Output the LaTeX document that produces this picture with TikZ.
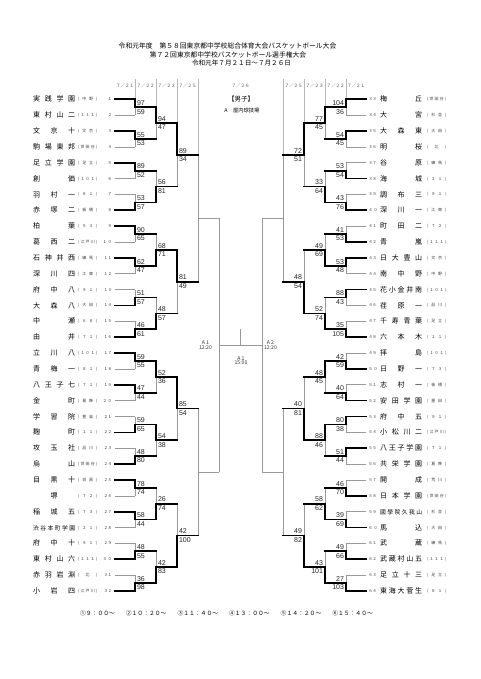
\documentclass[tikz,border=0pt]{standalone}
\usepackage{fontspec}
\setmainfont{Noto Sans CJK JP}
\newfontfamily\scorefont{Liberation Sans}
\pgfdeclarelayer{bg}
\pgfsetlayers{bg,main}
% spread the characters of a string with a separator
\def\sepchars#1#2{\def\sepX{#1}\expandafter\sepA#2\relax}
\def\sepA#1#2{#1\ifx\relax#2\else\sepX\expandafter\sepA\expandafter#2\fi}
\newcommand\namebox[2]{\hbox to #1{\hskip0pt plus1fil\sepchars{\hfill}{#2}\hskip0pt plus1fil}}
\newcommand\regbox[1]{\hbox to 19pt{(\hfil\sepchars{\hfil}{#1}\hfil)}}
\newcommand\fwd[1]{\ifcase#1 ０\or １\or ２\or ３\or ４\or ５\or ６\or ７\or ８\or ９\fi}
\newcommand\fwnum[1]{\ifnum#1<10 \fwd{#1}\else\fwd{\numexpr(#1-5)/10\relax}\fwd{\numexpr#1-10*((#1-5)/10)\relax}\fi}
\def\yz{99.3}
\def\dy{15.86}
\newcommand\seg[3]{\ifnum#1=#2\relax\draw[win] #3;\else\begin{pgfonlayer}{bg}\draw[lose] #3;\end{pgfonlayer}\fi}
% one round of one side: #1 sign (1 left, -1 right), #2 round, #3 x of vertical (left side), #4 list w/s1/s2, #5 letter
\newcommand\rnd[5]{%
  \pgfmathsetmacro\NN{2^#2}%
  \pgfmathsetmacro\xv{240.5+#1*(#3-240.5)}%
  \pgfmathsetmacro\xo{240.5+#1*(#3+21-240.5)}%
  \pgfmathsetmacro\xi{240.5+#1*(#3-20-240.5)}%
  \foreach \w/\sa/\sb [count=\k] in {#4} {
    \pgfmathsetmacro\ya{\yz+((\k-1)*\NN+(1+\NN/2)/2-1)*\dy}
    \pgfmathsetmacro\yb{\ya+\NN/2*\dy}
    \pgfmathsetmacro\ym{(\ya+\yb)/2}
    \pgfmathtruncatemacro\wo{\w>0 ? 1 : 0}
    \ifnum#2=1\relax
      \seg{\w}{1}{(\xi,\ya)--(\xv,\ya)}
      \seg{\w}{2}{(\xi,\yb)--(\xv,\yb)}
    \fi
    \seg{\w}{1}{(\xv,\ya)--(\xv,\ym)}
    \seg{\w}{2}{(\xv,\ym)--(\xv,\yb)}
    \seg{\wo}{1}{(\xv,\ym)--(\xo,\ym)}
    \ifnum\wo=1\relax
      \ifnum#1=1\relax
        \node[score,anchor=base west] (#5#2m\k a) at (\xv+1.8,\ym-1.8) {\sa};
        \node[score,anchor=base west] (#5#2m\k b) at (\xv+1.8,\ym+6.8) {\sb};
      \else
        \node[score,anchor=base east] (#5#2m\k a) at (\xv-1.8,\ym-1.8) {\sa};
        \node[score,anchor=base east] (#5#2m\k b) at (\xv-1.8,\ym+6.8) {\sb};
      \fi
    \fi
  }%
}
\begin{document}
\begin{tikzpicture}[x=1pt,y=-1pt,
  win/.style={line width=1.7pt, black, line cap=rect},
  lose/.style={line width=0.6pt, black!40},
  guide/.style={line width=0.5pt, black!28},
  tname/.style={inner sep=0, anchor=base west, font=\fontsize{7}{8}\selectfont},
  treg/.style={inner sep=0, anchor=base west, font=\fontsize{4}{5}\selectfont, black!75},
  tnum/.style={inner sep=0, font=\fontsize{4}{5}\selectfont, black!75},
  score/.style={inner sep=0, font=\scorefont\fontsize{7}{8}\selectfont, black!85},
  hdr/.style={inner sep=0, font=\fontsize{6.8}{8}\selectfont},
  datel/.style={inner sep=0, font=\fontsize{4.5}{5}\selectfont, black!65},
  small/.style={inner sep=0, font=\fontsize{5.2}{5.6}\selectfont, black!80}]
\useasboundingbox (0,0) rectangle (480,679);
\begin{pgfonlayer}{bg}
\fill[white] (0,0) rectangle (480,679);
\end{pgfonlayer}
% header
\node[hdr] (h1) at (227.5,46) {令和元年度　第５８回東京都中学校総合体育大会バスケットボール大会};
\node[hdr] (h2) at (228,54.5) {第７２回東京都中学校バスケットボール選手権大会};
\node[hdr,font=\fontsize{6.6}{8}\selectfont] (h3) at (241.5,63) {令和元年７月２１日～７月２６日};
\foreach \x/\d [count=\j] in {125/２１,145.5/２２,166.5/２３,187.5/２５} {
  \node[datel] (dl\j) at (\x,86) {７／\d};
  \node[datel] (dr\j) at (481-\x,86) {７／\d};
}
\node[datel] (dc) at (240.5,86) {７／２６};
\node[inner sep=0,font=\fontsize{6.5}{7}\selectfont] (boys) at (241,99) {【男子】};
\node[inner sep=0,font=\fontsize{5.3}{6}\selectfont] (venue) at (242,110) {A　屋内球技場};
% guides
\foreach \x/\yt in {135/99.3,156/107.23,177/123.09,198/154.81} {
  \begin{pgfonlayer}{bg}
  \draw[guide] (\x,79)--(\x,\yt);
  \draw[guide] (481-\x,79)--(481-\x,\yt);
  \end{pgfonlayer}
}
% left teams
\foreach \nm/\rg/\sz [count=\i] in {実践学園/中野/0, 東村山二/１１１/0, 文京十/文京/0, 駒場東邦/世田谷/0, 足立学園/足立/0, 創価/１０１/0, 羽村一/８１/0, 赤塚二/板橋/0, 柏葉/５３/0, 葛西二/江戸川/0, 石神井西/練馬/0, 深川四/江東/0, 府中八/９１/0, 大森八/大田/0, 中瀬/６８/0, 由井/７１/0, 立川八/１０１/0, 青梅一/８１/0, 八王子七/７１/0, 金町/葛飾/0, 学習院/豊島/0, 麹町/１１/0, 攻玉社/品川/0, 烏山/世田谷/0, 目黒十/目黒/0, 堺/７２/0, 稲城五/７３/0, 渋谷本町学園/２１/1, 府中十/９１/0, 東村山六/１１１/0, 赤羽岩淵/北/0, 小岩四/江戸川/0} {
  \pgfmathsetmacro\yy{\yz+(\i-1)*\dy}
  \node[tname] (tL\i) at (33,\yy+2.6) {\ifnum\sz=1 \fontsize{5.8}{6}\selectfont\fi\namebox{42pt}{\nm}};
  \node[treg] (rL\i) at (78,\yy+1.5) {\regbox{\rg}};
  \node[tnum,anchor=base east] (nL\i) at (112,\yy+1.5) {\fwnum{\i}};
}
% right teams
\foreach \nm/\rg/\sz [count=\i] in {梅丘/世田谷/0, 大宮/杉並/0, 大森東/大田/0, 明桜/北/0, 谷原/練馬/0, 海城/２１/0, 調布三/９１/0, 深川一/江東/0, 町田二/７２/0, 青嵐/１１１/0, 日大豊山/文京/0, 南中野/中野/0, 花小金井南/１０１/0, 荏原一/品川/0, 千寿青葉/足立/0, 六本木/１１/0, 拝島/１０１/0, 日野一/７３/0, 志村一/板橋/0, 安田学園/墨田/0, 府中五/９１/0, 小松川二/江戸川/0, 八王子学園/７１/0, 共栄学園/葛飾/0, 開成/荒川/0, 日本学園/世田谷/0, 國學院久我山/杉並/1, 馬込/大田/0, 武蔵/練馬/0, 武蔵村山五/１１１/0, 足立十三/足立/0, 東海大菅生/８１/0} {
  \pgfmathsetmacro\yy{\yz+(\i-1)*\dy}
  \pgfmathtruncatemacro\nn{\i+32}
  \node[tname] (tR\i) at (380,\yy+2.6) {\ifnum\sz=1 \fontsize{5.8}{6}\selectfont\fi\namebox{42pt}{\nm}};
  \node[treg] (rR\i) at (427,\yy+1.5) {\regbox{\rg}};
  \node[tnum,anchor=base west] (nR\i) at (368.5,\yy+1.5) {\fwnum{\nn}};
}
% left bracket
\rnd{1}{1}{135}{1/97/59, 1/55/53, 1/89/52, 2/53/57, 1/90/65, 1/62/47, 2/51/57, 2/46/61, 1/59/55, 1/47/44, 2/59/65, 2/48/80, 1/78/74, 1/58/44, 2/48/55, 2/36/98}{L}
\rnd{1}{2}{156}{1/94/47, 2/56/81, 2/68/71, 2/48/57, 1/52/36, 1/54/38, 2/26/74, 2/42/83}{L}
\rnd{1}{3}{177}{1/89/34, 1/81/49, 1/85/54, 2/42/100}{L}
\rnd{1}{4}{198}{0/0/0, 0/0/0}{L}
% right bracket
\rnd{-1}{1}{135}{1/104/36, 1/54/45, 2/53/54, 2/43/76, 2/41/53, 1/53/48, 1/88/43, 2/35/105, 2/42/59, 2/40/64, 1/80/38, 1/51/44, 2/46/70, 2/39/69, 2/49/66, 2/27/103}{R}
\rnd{-1}{2}{156}{1/77/45, 2/33/64, 2/49/69, 2/52/74, 1/48/45, 1/88/46, 2/58/62, 2/43/101}{R}
\rnd{-1}{3}{177}{1/72/51, 2/48/54, 2/40/81, 2/49/82}{R}
\rnd{-1}{4}{198}{0/0/0, 0/0/0}{R}
% semifinals and final
\coordinate (sfLt) at (219,218.26);
\coordinate (sfLb) at (219,472.01);
\coordinate (sfLm) at (219,345.13);
\coordinate (sfRt) at (262,218.26);
\coordinate (sfRb) at (262,472.01);
\coordinate (sfRm) at (262,345.13);
\coordinate (fm) at (240.5,345.13);
\coordinate (ft) at (240.5,329);
\begin{pgfonlayer}{bg}
\draw[lose] (sfLt)--(sfLb);
\draw[lose] (sfRt)--(sfRb);
\draw[lose] (sfLm)--(sfRm);
\draw[lose] (fm)--(ft);
\end{pgfonlayer}
\node[small,align=center] (sfLl) at (205.5,345) {A 1\\[-1pt]12:20};
\node[small,align=center] (sfRl) at (270.5,345) {A 2\\[-1pt]12:20};
\node[small,align=center] (fl) at (241,360.5) {A 1\\[-1pt]15:00};
% footer
\node[inner sep=0,font=\fontsize{5.8}{6}\selectfont] (foot) at (226.5,613) {①９：００～\hspace{11pt}②１０：２０～\hspace{11pt}③１１：４０～\hspace{11pt}④１３：００～\hspace{11pt}⑤１４：２０～\hspace{11pt}⑥１５：４０～};
\end{tikzpicture}
\end{document}
